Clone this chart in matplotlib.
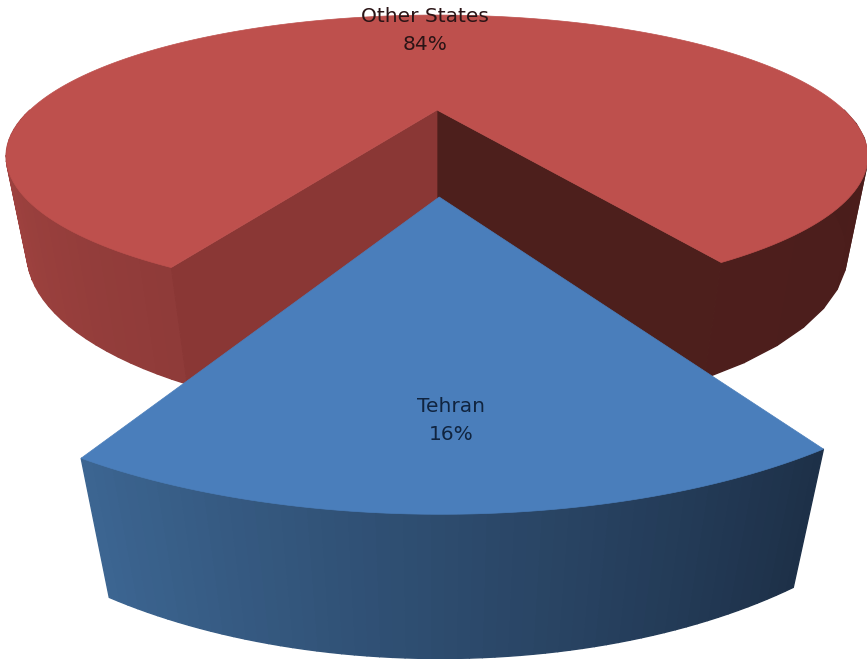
import numpy as np
import matplotlib
matplotlib.use("Agg")
import matplotlib.pyplot as plt
from matplotlib.colors import to_rgb

labels = ["Tehran", "Other States"]
shares = [16, 84]

# camera and layout, in pixels of the 867x659 picture
CX, CY = 437.0, 110.0
R, H, D = 407.0, 126.1, 95.0
K, M = 0.328, 0.045
EXPLODE = 0.5627
SLIDE = 0.008  # the slice does not come out quite straight
TURN = 1.2


def project(u, v, z=0.0):
    w = 1 - K * v + M * z
    return CX + R * u / w, CY + (H * v + D * z) / w


def rim(a, offset=0.0, z=0.0):
    # a in degrees from the viewer direction, going to the right
    t = np.radians(a)
    return project(np.sin(t) + offset * SLIDE, np.cos(t) + offset, z)


def mix(c1, c2, f):
    c1, c2 = np.array(to_rgb(c1)), np.array(to_rgb(c2))
    return tuple(c1 + (c2 - c1) * f)


def draw_wall(ax, a1, a2, offset, c_from, c_to, bands, zorder):
    # outer wall is made of narrow bands, so the shade steps along the arc
    edges = np.linspace(a1, a2, bands + 1)
    for i in range(bands):
        p1 = rim(edges[i], offset)
        p2 = rim(edges[i + 1], offset)
        p3 = rim(edges[i + 1], offset, 1)
        p4 = rim(edges[i], offset, 1)
        col = mix(c_from, c_to, i / (bands - 1))
        ax.fill([p1[0], p2[0], p3[0], p4[0]], [p1[1], p2[1], p3[1], p4[1]],
                color=col, lw=1.0, zorder=zorder)


def draw_side(ax, a, offset, color, zorder):
    p1 = project(offset * SLIDE, offset)
    p2 = rim(a, offset)
    p3 = rim(a, offset, 1)
    p4 = project(offset * SLIDE, offset, 1)
    ax.fill([p1[0], p2[0], p3[0], p4[0]], [p1[1], p2[1], p3[1], p4[1]],
            color=color, lw=0.5, zorder=zorder)


def draw_top(ax, a1, a2, offset, color, zorder):
    angles = np.linspace(a1, a2, 240)
    xs, ys = rim(angles, offset)
    apex = project(offset * SLIDE, offset)
    ax.fill(np.r_[apex[0], xs], np.r_[apex[1], ys], color=color, lw=0.5, zorder=zorder)


fig = plt.figure(figsize=(8.67, 6.59), dpi=100)
ax = fig.add_axes([0, 0, 1, 1])
ax.set_xlim(0, 867)
ax.set_ylim(659, 0)
ax.axis("off")

half = shares[0] / sum(shares) * 360 / 2
blue_a1, blue_a2 = TURN - half, TURN + half
red_a1, red_a2 = TURN + half, TURN + 360 - half

# red piece first, it sits behind the pulled out slice
draw_wall(ax, 270, red_a2, 0, "#A84643", "#8F3B39", 30, 2)
draw_wall(ax, red_a1, 90, 0, "#4D1E1C", "#4A1D1B", 10, 2)
draw_side(ax, red_a1, 0, "#4D1F1C", 3)
draw_side(ax, red_a2, 0, "#8A3735", 3)
draw_top(ax, red_a1, red_a2, 0, "#BE504D", 4)

# blue slice
draw_wall(ax, blue_a2, blue_a1, EXPLODE, "#1D3048", "#3C6591", 60, 5)
draw_top(ax, blue_a1, blue_a2, EXPLODE, "#4A7EBB", 6)

ax.text(425, 31, f"{labels[1]}\n{shares[1]}%", ha="center", va="center", fontsize=14.5,
        color="#2A1416", linespacing=1.6, zorder=8)
ax.text(451, 421, f"{labels[0]}\n{shares[0]}%", ha="center", va="center", fontsize=14.5,
        color="#10243F", linespacing=1.6, zorder=8)

fig.savefig("out.png", dpi=100, facecolor="white")
